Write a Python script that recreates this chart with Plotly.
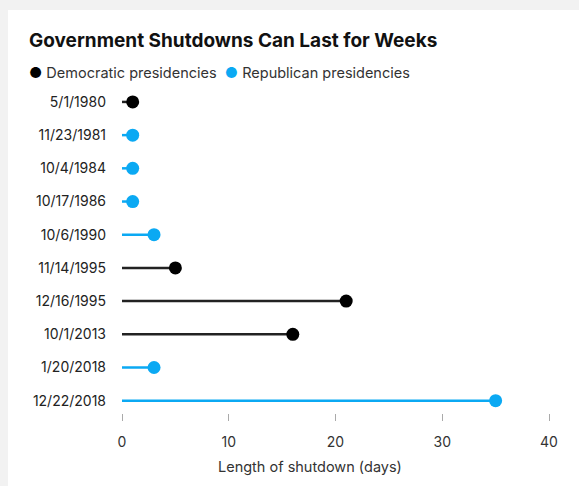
import plotly.graph_objects as go

dates = ["5/1/1980", "11/23/1981", "10/4/1984", "10/17/1986", "10/6/1990",
         "11/14/1995", "12/16/1995", "10/1/2013", "1/20/2018", "12/22/2018"]
days = [1, 1, 1, 1, 3, 5, 21, 16, 3, 35]
party = ["D", "R", "R", "R", "R", "D", "D", "D", "R", "R"]
xticks = [0, 10, 20, 30, 40]

DEM = "#000000"
DEM_LINE = "#222222"
REP = "#0ba9f3"
FONT = "Inter"

W, H = 579, 486
L, R, T, B = 122, 30, 85, 73
pw = W - L - R
ph = H - T - B

fig = go.Figure()
for i, (d, v, p) in enumerate(zip(dates, days, party)):
    lc = DEM_LINE if p == "D" else REP
    mc = DEM if p == "D" else REP
    fig.add_trace(go.Scatter(x=[0, v], y=[i, i], mode="lines",
                             line=dict(color=lc, width=2.5),
                             showlegend=False, hoverinfo="skip"))
    fig.add_trace(go.Scatter(x=[v], y=[i], mode="markers",
                             marker=dict(color=mc, size=13),
                             showlegend=False, name=d))

def px_x(p):
    return (p - L) / pw

def px_y(p):
    return 1 - (p - T) / ph

fig.add_shape(type="rect", xref="paper", yref="paper",
              x0=px_x(8), x1=px_x(W + 5), y0=px_y(H + 5), y1=px_y(10),
              fillcolor="white", line=dict(width=0), layer="below")

fig.add_annotation(text="<b>Government Shutdowns Can Last for Weeks</b>",
                   xref="paper", yref="paper", x=px_x(27), y=px_y(40),
                   xanchor="left", yanchor="middle", showarrow=False,
                   font=dict(family=FONT, size=19, color="#111111"))
fig.add_annotation(text=f"<span style='color:{DEM}'>●</span> Democratic presidencies"
                        f"  <span style='color:{REP}'>●</span> Republican presidencies",
                   xref="paper", yref="paper", x=px_x(27), y=px_y(72),
                   xanchor="left", yanchor="middle", showarrow=False,
                   font=dict(family=FONT, size=14.5, color="#333333"))
fig.add_annotation(text="Length of shutdown (days)",
                   xref="paper", yref="paper", x=px_x(310), y=px_y(467),
                   xanchor="center", yanchor="middle", showarrow=False,
                   font=dict(family=FONT, size=14.5, color="#333333"))

fig.update_xaxes(range=[0, 40], tickvals=xticks, ticktext=[str(t) for t in xticks],
                 showgrid=False, zeroline=False, showline=False,
                 ticks="outside", ticklen=7, tickwidth=1, tickcolor="#aaaaaa",
                 ticklabelstandoff=9,
                 tickfont=dict(family=FONT, size=14, color="#333333"))
fig.update_yaxes(range=[9.37, -0.51], tickvals=list(range(len(dates))), ticktext=dates,
                 showgrid=False, zeroline=False, showline=False, ticks="",
                 ticklabelstandoff=15,
                 tickfont=dict(family=FONT, size=14, color="#222222"))

fig.update_layout(width=W, height=H, margin=dict(l=L, r=R, t=T, b=B),
                  paper_bgcolor="#f2f2f2", plot_bgcolor="white",
                  showlegend=False)

fig.write_html("out.html")
